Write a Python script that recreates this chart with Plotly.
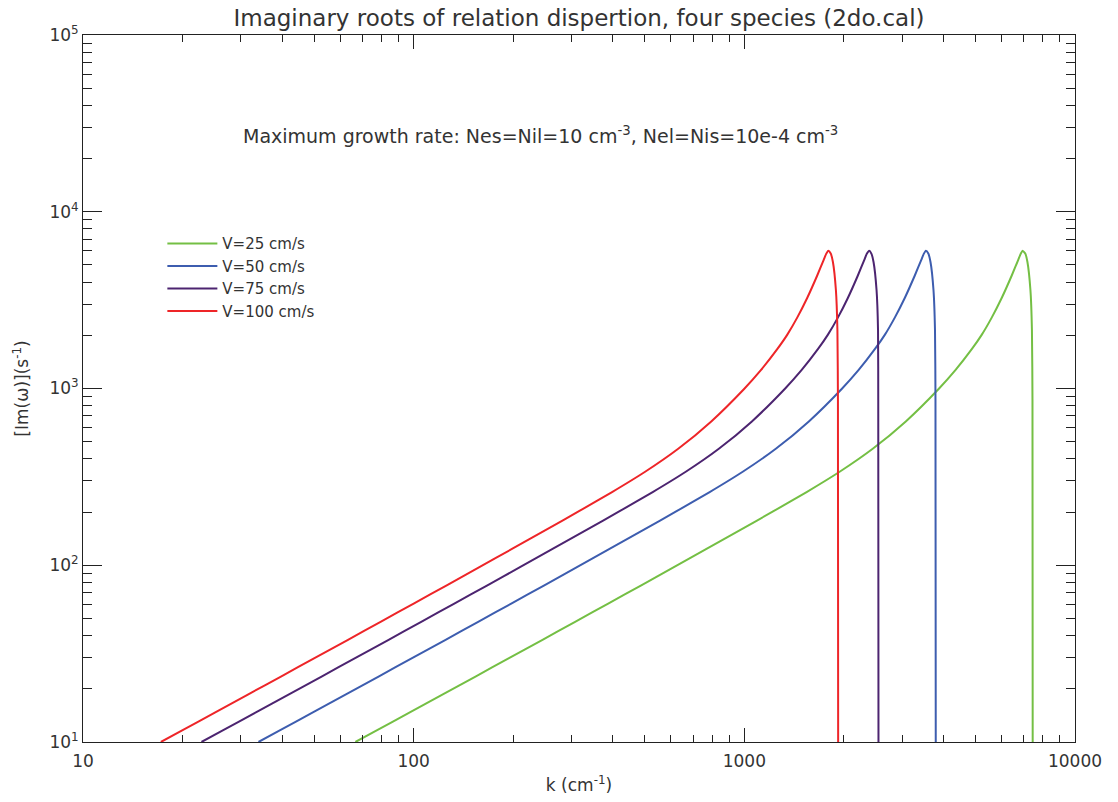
import plotly.graph_objects as go

# Values (k in cm^-1, growth rate in s^-1)
g_common = [10, 11.64, 14.72, 18.62, 23.54, 29.82, 37.76, 47.86, 60.67, 76.98, 97.83, 124.4,
            158.5, 202.2, 259.4, 338.0, 456.1, 651.4, 997.5, 1270, 1675, 2018, 2518, 3251,
            4345, 5344, 5777, 6025, 5800, 5196, 3606, 2143, 861, 10]

k_v100 = [17.2, 19.95, 25.12, 31.62, 39.81, 50.12, 63.1, 79.43, 100, 125.9, 158.5, 199.5,
          251.2, 316.2, 398.1, 501.2, 631, 794.3, 1000, 1122, 1259, 1349, 1445, 1549, 1660,
          1738, 1768, 1794, 1825, 1853, 1892, 1912, 1919, 1922]
g_v100 = list(g_common)

k_v75 = [22.82, 26.47, 33.33, 41.96, 52.83, 66.51, 83.73, 105.4, 132.7, 167.1, 210.3, 264.7,
         333.3, 419.6, 528.3, 665.1, 837.3, 1054, 1327, 1489, 1671, 1790, 1918, 2056,
         2203, 2306, 2346, 2386, 2422, 2459, 2511, 2537, 2541, 2545]
g_v75 = list(g_common)

k_v50 = [33.94, 39.36, 49.56, 62.39, 78.55, 98.89, 124.5, 156.7, 197.3, 248.4, 312.7, 393.6,
         495.6, 623.9, 785.5, 988.9, 1245, 1567, 1973, 2214, 2484, 2662, 2851, 3056, 3275,
         3429, 3488, 3540, 3601, 3656, 3733, 3772, 3785, 3792]
g_v50 = list(g_common)

k_v25 = [66.65, 77.31, 97.34, 122.5, 154.3, 194.2, 244.5, 307.8, 387.5, 487.9, 614.2, 773.1,
         973.4, 1225, 1543, 1942, 2445, 3078, 3875, 4348, 4879, 5227, 5599, 6002, 6433,
         6735, 6851, 6940, 7072, 7180, 7332, 7409, 7437, 7448]
g_v25 = list(g_common)

series_names = ["V=25 cm/s", "V=50 cm/s", "V=75 cm/s", "V=100 cm/s"]
series_colors = ["#74BF44", "#3D5DAF", "#4C2470", "#EE2528"]

x_ticks = [10, 100, 1000, 10000]
x_ticktext = ["10", "100", "1000", "10000"]
y_ticks = [1e1, 1e2, 1e3, 1e4, 1e5]
y_ticktext = ["10<sup>1</sup>", "10<sup>2</sup>", "10<sup>3</sup>", "10<sup>4</sup>", "10<sup>5</sup>"]

x_minor = [m * 10 ** e for e in range(1, 4) for m in range(2, 10)]
y_minor = [m * 10 ** e for e in range(1, 5) for m in range(2, 10)]

FONT = "DejaVu Sans"
TXT = "#333333"

fig = go.Figure()
data = [(k_v25, g_v25), (k_v50, g_v50), (k_v75, g_v75), (k_v100, g_v100)]
for (kx, gy), name, col in zip(data, series_names, series_colors):
    fig.add_trace(go.Scatter(x=kx, y=gy, mode="lines", name=name,
                             line=dict(color=col, width=2, shape="spline", smoothing=0.5)))

axis_common = dict(
    type="log", showgrid=False, zeroline=False, showline=True, linecolor="#222222",
    linewidth=1, mirror="ticks", ticks="inside", tickcolor="#222222", tickwidth=1,
    tickfont=dict(family=FONT, size=17, color=TXT),
)

fig.update_layout(
    width=1118, height=802,
    margin=dict(l=83, r=43, t=35, b=60),
    paper_bgcolor="white", plot_bgcolor="white",
    title=dict(text="Imaginary roots of relation dispertion, four species (2do.cal)",
               x=(83 + 1075) / 2 / 1118, xanchor="center", y=1 - 18 / 802, yanchor="middle",
               font=dict(family=FONT, size=23, color=TXT)),
    xaxis=dict(axis_common, range=[1, 4], tickmode="array", tickvals=x_ticks,
               ticktext=x_ticktext, ticklen=14, ticklabelstandoff=4,
               minor=dict(tickmode="array", tickvals=x_minor, ticks="inside",
                          ticklen=7, tickcolor="#222222", tickwidth=1),
               title=dict(text="k (cm<sup>-1</sup>)", standoff=8,
                          font=dict(family=FONT, size=17, color=TXT))),
    yaxis=dict(axis_common, range=[1, 5], tickmode="array", tickvals=y_ticks,
               ticktext=y_ticktext, ticklen=19,
               minor=dict(tickmode="array", tickvals=y_minor, ticks="inside",
                          ticklen=9, tickcolor="#222222", tickwidth=1),
               title=dict(text="[Im(ω)](s<sup>-1</sup>)", standoff=16,
                          font=dict(family=FONT, size=17, color=TXT))),
    showlegend=True,
    legend=dict(x=0.08, y=0.728, xanchor="left", yanchor="top", bgcolor="rgba(0,0,0,0)",
                font=dict(family=FONT, size=15, color=TXT), tracegroupgap=0,
                itemwidth=50),
    annotations=[dict(
        text="Maximum growth rate: Nes=Nil=10 cm<sup>-3</sup>, Nel=Nis=10e-4 cm<sup>-3</sup>",
        xref="paper", yref="paper", x=(241 - 83) / 992, y=(742 - 135) / 707,
        xanchor="left", yanchor="middle", showarrow=False,
        font=dict(family=FONT, size=19, color=TXT))],
)

fig.write_html("out.html")
